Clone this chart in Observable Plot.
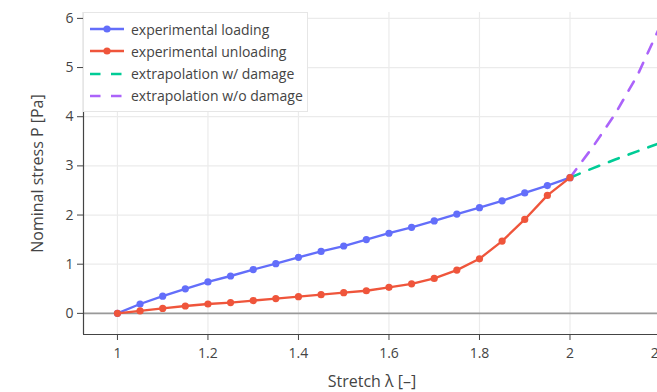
<!DOCTYPE html>
<html>
<head>
<meta charset="utf-8">
<script src="https://cdn.jsdelivr.net/npm/d3@7"></script>
<script src="https://cdn.jsdelivr.net/npm/@observablehq/plot@0.6"></script>
<style>
  html, body { margin: 0; padding: 0; background: #fff; width: 657px; height: 392px; overflow: hidden; }
  #wrap { position: relative; width: 657px; height: 392px; overflow: hidden; font-family: "Open Sans", sans-serif; }
  #wrap > svg { max-width: none !important; display: block; }
  #legend { position: absolute; left: 83px; top: 12px; width: 225px; height: 100px; background: #fff; border: 1px solid #e6e6e6; box-sizing: border-box; }
  .item { position: absolute; left: 6px; height: 20px; display: flex; align-items: center; font-size: 14px; color: #444; white-space: nowrap; }
  .item svg { margin-right: 6px; }
</style>
</head>
<body>
<div id="wrap"></div>
<script>
// ---- data ----
const stretch = [1, 1.05, 1.1, 1.15, 1.2, 1.25, 1.3, 1.35, 1.4, 1.45, 1.5, 1.55, 1.6, 1.65, 1.7, 1.75, 1.8, 1.85, 1.9, 1.95, 2];
const loading = [0, 0.19, 0.35, 0.50, 0.64, 0.76, 0.89, 1.01, 1.14, 1.26, 1.37, 1.50, 1.63, 1.75, 1.88, 2.02, 2.15, 2.29, 2.45, 2.60, 2.76];
const unloading = [0, 0.05, 0.10, 0.15, 0.19, 0.22, 0.26, 0.30, 0.34, 0.38, 0.42, 0.46, 0.53, 0.60, 0.71, 0.88, 1.11, 1.47, 1.91, 2.40, 2.76];
const extStretch = [2, 2.05, 2.1, 2.15, 2.2];
const extDamage = [2.76, 2.95, 3.13, 3.30, 3.47];
const extNoDamage = [2.76, 3.38, 4.06, 4.86, 5.86];
const xTicks = [1, 1.2, 1.4, 1.6, 1.8, 2, 2.2];
const xTickLabels = ["1", "1.2", "1.4", "1.6", "1.8", "2", "2.2"];
const yTicks = [0, 1, 2, 3, 4, 5, 6];
const seriesNames = ["experimental loading", "experimental unloading", "extrapolation w/ damage", "extrapolation w/o damage"];
const seriesColors = ["#636efa", "#EF553B", "#00cc96", "#ab63fa"];

const loadRows = stretch.map((s, i) => ({s, p: loading[i]}));
const unloadRows = stretch.map((s, i) => ({s, p: unloading[i]}));
const dmgRows = extStretch.map((s, i) => ({s, p: extDamage[i]}));
const noDmgRows = extStretch.map((s, i) => ({s, p: extNoDamage[i]}));

const fmt = d => xTickLabels[xTicks.indexOf(d)];

const chart = Plot.plot({
  width: 700,
  height: 392,
  marginLeft: 83,
  marginRight: 40,
  marginTop: 12,
  marginBottom: 58,
  style: {fontFamily: "'Open Sans', sans-serif", background: "transparent", color: "#444", maxWidth: "none"},
  x: {domain: [0.925, 2.2]},
  y: {domain: [-0.43, 6.12]},
  marks: [
    Plot.gridX(xTicks, {stroke: "#ebebeb", strokeOpacity: 1, strokeWidth: 1.2}),
    Plot.gridY(yTicks, {stroke: "#ebebeb", strokeOpacity: 1, strokeWidth: 1.2}),
    Plot.ruleY([0], {stroke: "#999", strokeWidth: 1.6}),
    Plot.axisX(xTicks, {tickFormat: fmt, tickSize: 6, tickPadding: 8, fontSize: 14, stroke: "#444", fill: "#444", label: null}),
    Plot.axisY(yTicks, {tickSize: 6, tickPadding: 4, fontSize: 14, stroke: "#444", fill: "#444", label: null}),
    Plot.ruleX([0.925], {stroke: "#444", strokeWidth: 1.2}),
    Plot.ruleY([-0.43], {stroke: "#444", strokeWidth: 1.2}),
    Plot.line(dmgRows, {x: "s", y: "p", stroke: seriesColors[2], strokeWidth: 2.6, strokeDasharray: "10.5,10.5"}),
    Plot.line(noDmgRows, {x: "s", y: "p", stroke: seriesColors[3], strokeWidth: 2.6, strokeDasharray: "10.5,10.5"}),
    Plot.line(loadRows, {x: "s", y: "p", stroke: seriesColors[0], strokeWidth: 2.33}),
    Plot.dot(loadRows, {x: "s", y: "p", fill: seriesColors[0], r: 3.6}),
    Plot.line(unloadRows, {x: "s", y: "p", stroke: seriesColors[1], strokeWidth: 2.33}),
    Plot.dot(unloadRows, {x: "s", y: "p", fill: seriesColors[1], r: 3.6}),
    Plot.text(["Nominal stress P [Pa]"], {frameAnchor: "left", dx: -45.5, rotate: -90, textAnchor: "middle", lineAnchor: "middle", fontSize: 16, fill: "#444"}),
    Plot.text(["Stretch λ [–]"], {frameAnchor: "bottom", dy: 47.5, textAnchor: "middle", lineAnchor: "middle", fontSize: 16, fill: "#444"})
  ]
});

const wrap = document.getElementById("wrap");
wrap.appendChild(chart);

// legend
const legend = document.createElement("div");
legend.id = "legend";
seriesNames.forEach((name, i) => {
  const item = document.createElement("div");
  item.className = "item";
  item.style.top = (6.3 + i * 22.1) + "px";
  const ns = "http://www.w3.org/2000/svg";
  const svg = document.createElementNS(ns, "svg");
  svg.setAttribute("width", "35");
  svg.setAttribute("height", "12");
  const ln = document.createElementNS(ns, "line");
  ln.setAttribute("x1", "0"); ln.setAttribute("x2", "34");
  ln.setAttribute("y1", "6"); ln.setAttribute("y2", "6");
  ln.setAttribute("stroke", seriesColors[i]);
  if (i < 2) {
    ln.setAttribute("stroke-width", "2.33");
    svg.appendChild(ln);
    const c = document.createElementNS(ns, "circle");
    c.setAttribute("cx", "17"); c.setAttribute("cy", "6"); c.setAttribute("r", "3.6");
    c.setAttribute("fill", seriesColors[i]);
    svg.appendChild(c);
  } else {
    ln.setAttribute("stroke-width", "2.6");
    ln.setAttribute("stroke-dasharray", "10.5,10.5");
    svg.appendChild(ln);
  }
  item.appendChild(svg);
  item.appendChild(document.createTextNode(name));
  legend.appendChild(item);
});
wrap.appendChild(legend);
</script>
</body>
</html>
